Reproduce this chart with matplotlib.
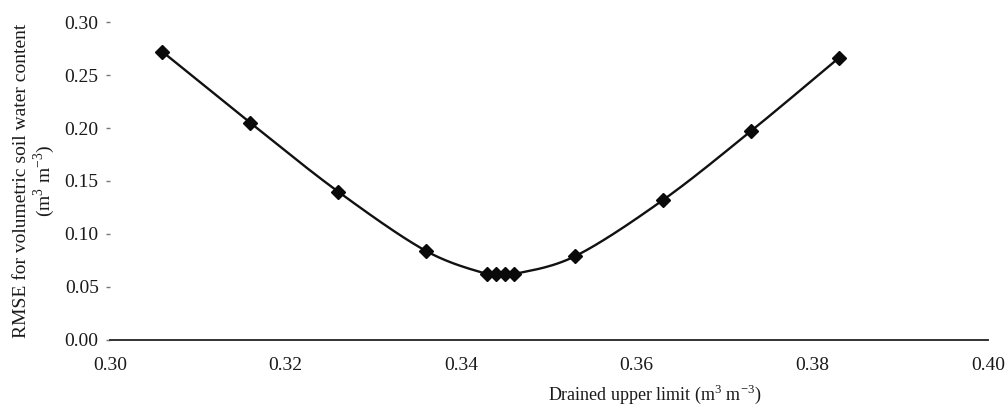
import numpy as np
import matplotlib
matplotlib.use('Agg')
import matplotlib.pyplot as plt

plt.rcParams['font.family'] = ['Liberation Serif', 'DejaVu Serif']
plt.rcParams['mathtext.fontset'] = 'custom'
plt.rcParams['mathtext.rm'] = 'Liberation Serif'

# drained upper limit tried vs. RMSE of simulated soil water
dul = [0.306, 0.316, 0.326, 0.336, 0.343, 0.344, 0.345, 0.346,
       0.353, 0.363, 0.373, 0.383]
rmse = [0.272, 0.205, 0.140, 0.084, 0.062, 0.062, 0.062, 0.062,
        0.079, 0.132, 0.197, 0.266]

xticks = [0.30, 0.32, 0.34, 0.36, 0.38, 0.40]
yticks = [0.00, 0.05, 0.10, 0.15, 0.20, 0.25, 0.30]


def smooth_line(x, y, xr, yr, n=30):
    # catmull-rom through the points, done in axis-scaled units
    px = (np.asarray(x) - xr[0]) / (xr[1] - xr[0])
    py = (np.asarray(y) - yr[0]) / (yr[1] - yr[0]) * 0.38
    P = np.column_stack([px, py])
    P = np.vstack([P[0], P, P[-1]])
    out = []
    t = np.linspace(0, 1, n)[:, None]
    for i in range(1, len(P) - 2):
        p0, p1, p2, p3 = P[i - 1], P[i], P[i + 1], P[i + 2]
        seg = 0.5 * ((2 * p1) + (-p0 + p2) * t +
                     (2 * p0 - 5 * p1 + 4 * p2 - p3) * t ** 2 +
                     (-p0 + 3 * p1 - 3 * p2 + p3) * t ** 3)
        out.append(seg)
    out = np.vstack(out)
    sx = out[:, 0] * (xr[1] - xr[0]) + xr[0]
    sy = out[:, 1] / 0.38 * (yr[1] - yr[0]) + yr[0]
    return sx, sy


fig = plt.figure(figsize=(10.07, 4.18), dpi=100)
ax = fig.add_axes([0.109, 0.187, 0.872, 0.760])

xr = (0.30, 0.40)
yr = (0.0, 0.30)
sx, sy = smooth_line(dul, rmse, xr, yr)
ax.plot(sx, sy, color='#111111', lw=1.7, zorder=2)
ax.plot(dul, rmse, linestyle='none', marker='D', ms=7.5,
        color='#0a0a0a', zorder=3)

ax.set_xlim(*xr)
ax.set_ylim(*yr)
ax.set_xticks(xticks)
ax.set_xticklabels(['%.2f' % v for v in xticks])
ax.set_yticks(yticks)
ax.set_yticklabels(['%.2f' % v for v in yticks])

for s in ['top', 'right', 'left']:
    ax.spines[s].set_visible(False)
ax.spines['bottom'].set_color('#333333')
ax.spines['bottom'].set_linewidth(1.4)

ax.tick_params(axis='x', length=0, pad=12, labelsize=14, colors='#1a1a1a')
ax.tick_params(axis='y', length=3, width=1, pad=5, labelsize=14,
               colors='#777777', labelcolor='#1a1a1a')

ax.set_xlabel('Drained upper limit (m$^3$ m$^{-3}$)', fontsize=13,
              color='#1a1a1a')
ax.xaxis.set_label_coords(0.62, -0.135)
ax.set_ylabel('RMSE for volumetric soil water content\n(m$^3$ m$^{-3}$)',
              fontsize=14, linespacing=1.05, color='#1a1a1a')
ax.yaxis.set_label_coords(-0.060, 0.5)

fig.savefig('out.png', dpi=100)
